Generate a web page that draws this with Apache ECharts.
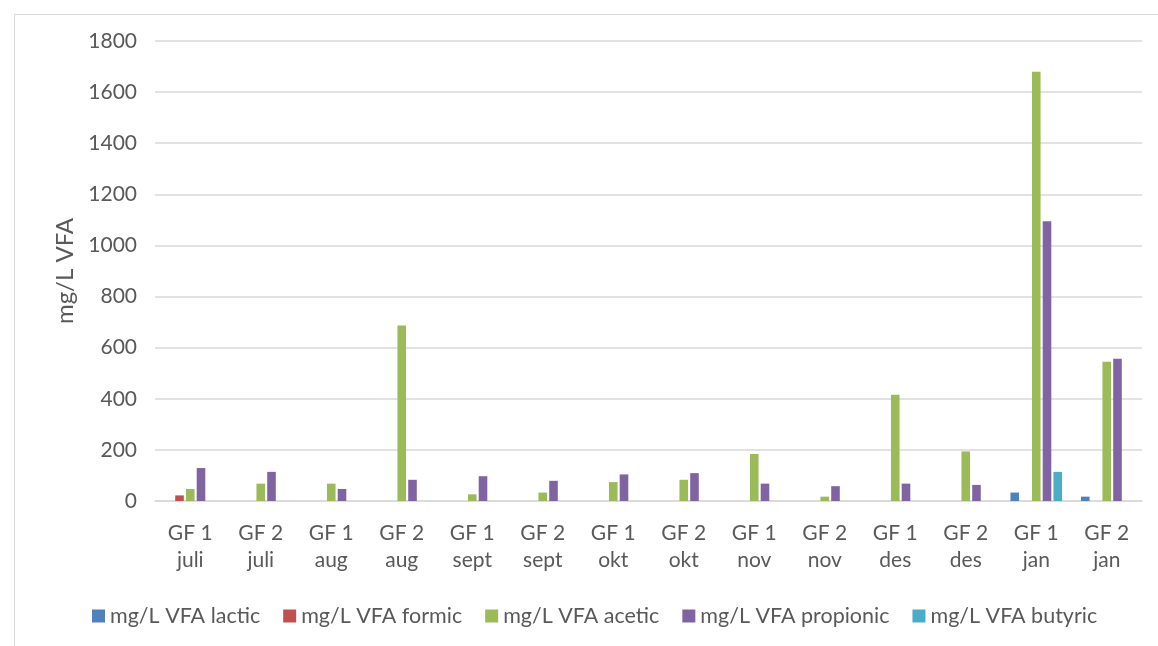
<!DOCTYPE html>
<html>
<head>
<meta charset="utf-8">
<script src="https://cdn.jsdelivr.net/npm/echarts@6/dist/echarts.min.js"></script>
<style>
html,body{margin:0;padding:0;background:#fff;}
#chart{width:1158px;height:646px;}
</style>
</head>
<body>
<div id="chart"></div>
<script>
const categories = ["GF 1\njuli","GF 2\njuli","GF 1\naug","GF 2\naug","GF 1\nsept","GF 2\nsept","GF 1\nokt","GF 2\nokt","GF 1\nnov","GF 2\nnov","GF 1\ndes","GF 2\ndes","GF 1\njan","GF 2\njan"];
const lactic    = [null,null,null,null,null,null,null,null,null,null,null,null,33,17];
const formic    = [22,null,null,null,null,null,null,null,null,null,null,null,null,null];
const acetic    = [47,68,68,687,26,33,74,83,184,17,416,194,1680,545];
const propionic = [129,114,47,83,97,79,104,109,68,58,68,63,1095,557];
const butyric   = [null,null,null,null,null,null,null,null,null,null,null,null,114,null];
const seriesNames = ["mg/L VFA lactic","mg/L VFA formic","mg/L VFA acetic","mg/L VFA propionic","mg/L VFA butyric"];
const seriesData = [lactic, formic, acetic, propionic, butyric];
const colors = ["#4F81BD","#C0504D","#9BBB59","#8064A2","#4BACC6"];
const yTicks = {min:0, max:1800, interval:200};
const yTitle = "mg/L VFA";

const FONT = "Lato";
const chart = echarts.init(document.getElementById('chart'), null, {renderer:'canvas'});
chart.setOption({
  animation:false,
  color: colors,
  textStyle:{fontFamily:FONT},
  graphic:[{type:'rect', left:12, top:12, shape:{width:1300,height:800}, style:{fill:null, stroke:'#D9D9D9', lineWidth:1}, silent:true}],
  grid:{left:155, right:16, top:41, bottom:145},
  legend:{
    left:92, top:605, padding:0, itemWidth:13, itemHeight:13, itemGap:23, icon:'rect',
    textStyle:{fontFamily:FONT, fontSize:21.5, color:'#595959', padding:[0,0,0,0]},
    data: seriesNames
  },
  xAxis:{
    type:'category', data:categories,
    axisLine:{lineStyle:{color:'#D9D9D9', width:1.5}},
    axisTick:{show:false},
    axisLabel:{fontFamily:FONT, fontSize:21, color:'#595959', lineHeight:27, margin:19, interval:0}
  },
  yAxis:{
    type:'value', min:yTicks.min, max:yTicks.max, interval:yTicks.interval,
    name:yTitle, nameLocation:'middle', nameRotate:90, nameGap:76,
    nameTextStyle:{fontFamily:FONT, fontSize:24, color:'#595959'},
    axisLine:{show:false}, axisTick:{show:false},
    axisLabel:{fontFamily:FONT, fontSize:21, color:'#595959', margin:18, formatter:v=>String(v)},
    splitLine:{lineStyle:{color:'#D9D9D9', width:1.5}}
  },
  series: seriesNames.map((n,i)=>({
    name:n, type:'bar', data:seriesData[i], barWidth:8.6, barGap:'25%'
  }))
});
</script>
</body>
</html>
